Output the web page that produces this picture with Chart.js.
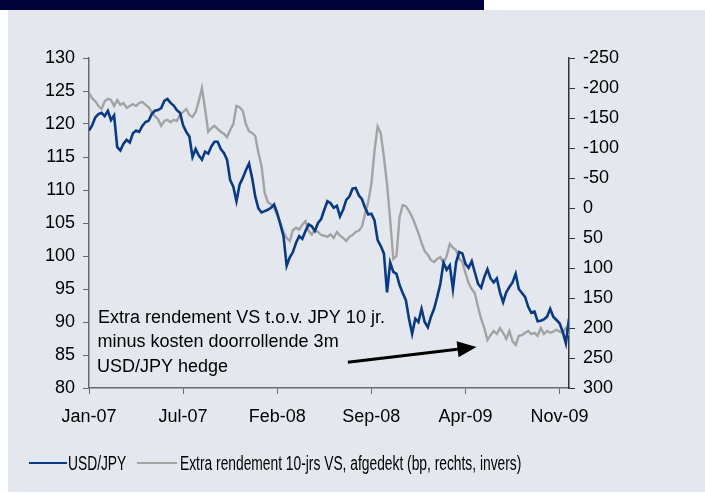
<!DOCTYPE html>
<html>
<head>
<meta charset="utf-8">
<script src="https://cdn.jsdelivr.net/npm/chart.js@4.4.1/dist/chart.umd.min.js"></script>
<style>
html,body{margin:0;padding:0;background:#fff;}
#wrap{width:705px;height:494px;}
</style>
</head>
<body>
<div id="wrap"><canvas id="c" width="705" height="494"></canvas></div>
<script>
// Tick labels (every 30 weeks ~ 150 business days)
const xTickLabels = ['Jan-07','Jul-07','Feb-08','Sep-08','Apr-09','Nov-09'];
const xTickWeeks = [0, 30, 60, 90, 120, 150];

// USD/JPY, weekly samples (left axis)
const usdJpy = [
119.0,119.8,121.0,121.5,121.7,121.2,122.0,120.6,121.3,116.5,
116.0,117.0,117.6,117.2,118.6,119.0,118.8,119.7,120.3,120.5,
121.5,122.0,122.1,122.4,123.5,123.8,123.2,122.8,122.1,121.7,
119.8,118.8,118.1,115.0,116.2,115.2,114.6,115.8,115.5,116.6,
117.3,117.3,116.2,115.6,114.6,111.5,110.5,108.3,110.8,111.8,
113.0,114.0,111.8,109.0,107.2,106.6,106.8,107.0,107.3,107.8,
106.5,104.8,103.0,98.5,99.8,100.6,102.0,103.0,102.6,103.8,
104.8,104.5,103.8,105.0,105.6,107.0,108.3,108.0,107.3,107.6,
106.0,107.0,108.5,109.0,110.2,110.3,109.2,108.6,107.3,106.3,
106.4,105.4,102.4,101.5,100.4,94.5,99.0,97.6,97.3,95.6,
94.4,93.3,90.5,88.2,90.5,90.0,92.0,90.0,89.2,90.8,
92.0,93.8,95.8,99.0,97.9,98.6,95.0,99.0,100.6,100.4,
98.8,98.2,99.2,97.5,95.8,95.2,96.8,98.0,96.6,96.0,
96.6,94.5,93.0,94.5,95.3,96.0,97.3,95.0,94.4,93.8,
92.3,91.4,91.6,90.1,90.2,90.4,90.8,92.0,90.8,90.3,
89.8,88.5,86.8,90.5
];

// Extra rendement 10-jrs VS, afgedekt (bp), weekly samples (right axis, inverted)
const extraRendement = [
-192,-183,-178,-170,-165,-178,-182,-180,-170,-180,
-172,-175,-167,-170,-173,-170,-175,-177,-172,-168,
-160,-153,-148,-137,-145,-147,-143,-147,-145,-155,
-160,-165,-155,-152,-160,-178,-200,-165,-127,-133,
-137,-132,-127,-124,-118,-130,-140,-170,-168,-162,
-140,-128,-125,-120,-92,-70,-25,-10,-6,0,
12,25,40,50,55,37,33,36,28,22,
38,44,36,40,45,46,48,44,50,40,
46,50,55,48,45,40,38,31,10,-10,
-40,-95,-136,-125,-85,-40,20,85,80,15,
-5,-3,5,15,28,42,58,72,78,87,
90,85,82,92,80,60,66,70,84,90,
108,125,135,142,165,185,200,220,212,205,
210,200,208,218,205,222,228,213,212,208,
205,210,208,213,200,210,205,208,206,203,
206,208,200,212
];

const seriesLabels = ['USD/JPY', 'Extra rendement 10-jrs VS, afgedekt (bp, rechts, invers)'];
const annotationLines = ['Extra rendement VS t.o.v. JPY 10 jr.', 'minus kosten doorrollende 3m', 'USD/JPY hedge'];

const BLUE = '#0a3a86';
const GREY = '#a3a3a3';
const FONT = '"Liberation Sans", Arial, sans-serif';

const bgPlugin = {
  id: 'bg',
  beforeDraw(chart) {
    const ctx = chart.ctx;
    ctx.save();
    ctx.fillStyle = '#ffffff';
    ctx.fillRect(0, 0, chart.width, chart.height);
    ctx.fillStyle = '#e4e7ed';
    ctx.fillRect(8, 10, chart.width - 8, chart.height - 12);
    ctx.fillStyle = '#00003a';
    ctx.fillRect(0, 0, 484, 10);
    ctx.restore();
  }
};

const decoPlugin = {
  id: 'deco',
  afterDraw(chart) {
    const ctx = chart.ctx;
    const xs = chart.scales.x, ys = chart.scales.y;
    ctx.save();
    // annotation text
    ctx.fillStyle = '#000';
    ctx.font = '18px ' + FONT;
    ctx.textBaseline = 'middle';
    ctx.textAlign = 'left';
    const ax = xs.getPixelForValue(2.9);
    const ay = [90.6, 87.0, 83.2];
    annotationLines.forEach((t, i) => ctx.fillText(t, ax - (i * 0.6), ys.getPixelForValue(ay[i])));
    // arrow
    const x0 = xs.getPixelForValue(82.5), y0 = ys.getPixelForValue(83.9);
    const x1 = xs.getPixelForValue(123.5), y1 = ys.getPixelForValue(86.2);
    const dx = x1 - x0, dy = y1 - y0, L = Math.hypot(dx, dy);
    const ux = dx / L, uy = dy / L, px = -uy, py = ux;
    const hl = 19, hw = 8;
    const bx = x1 - ux * hl, by = y1 - uy * hl;
    ctx.strokeStyle = '#000';
    ctx.lineWidth = 3;
    ctx.beginPath();
    ctx.moveTo(x0, y0);
    ctx.lineTo(bx + ux * 2, by + uy * 2);
    ctx.stroke();
    ctx.fillStyle = '#000';
    ctx.beginPath();
    ctx.moveTo(x1, y1);
    ctx.lineTo(bx + px * hw, by + py * hw);
    ctx.lineTo(bx - px * hw, by - py * hw);
    ctx.closePath();
    ctx.fill();
    // legend
    const ly = 463;
    const items = [
      {color: BLUE, x0: 29, x1: 67, tx: 68, text: seriesLabels[0]},
      {color: GREY, x0: 137, x1: 177, tx: 180, text: seriesLabels[1]}
    ];
    ctx.font = '20px ' + FONT;
    items.forEach(it => {
      ctx.strokeStyle = it.color;
      ctx.lineWidth = 2;
      ctx.beginPath();
      ctx.moveTo(it.x0, ly);
      ctx.lineTo(it.x1, ly);
      ctx.stroke();
      ctx.save();
      ctx.translate(it.tx, ly);
      ctx.scale(0.69, 1);
      ctx.fillStyle = '#000';
      ctx.textBaseline = 'middle';
      ctx.fillText(it.text, 0, 1);
      ctx.restore();
    });
    ctx.restore();
  }
};

const tickFont = {family: FONT, size: 18};

new Chart(document.getElementById('c'), {
  type: 'line',
  data: {
    datasets: [
      {
        label: seriesLabels[0],
        data: usdJpy.map((v, i) => ({x: i, y: v})),
        borderColor: BLUE,
        borderWidth: 2.6,
        pointRadius: 0,
        tension: 0,
        yAxisID: 'y'
      },
      {
        label: seriesLabels[1],
        data: extraRendement.map((v, i) => ({x: i, y: v})),
        borderColor: GREY,
        borderWidth: 2.4,
        pointRadius: 0,
        tension: 0,
        yAxisID: 'y2'
      }
    ]
  },
  options: {
    responsive: false,
    devicePixelRatio: 1,
    animation: false,
    layout: {padding: {left: 0, right: 0, top: 58, bottom: 0}},
    plugins: {legend: {display: false}, tooltip: {enabled: false}},
    scales: {
      x: {
        type: 'linear',
        min: 0,
        max: 153,
        afterBuildTicks(scale) { scale.ticks = xTickWeeks.map(v => ({value: v})); },
        afterFit(scale) { scale.height = 106; },
        ticks: {
          font: tickFont, color: '#000', padding: 12, maxRotation: 0,
          callback: (v) => xTickLabels[xTickWeeks.indexOf(v)]
        },
        grid: {display: true, drawOnChartArea: false, drawTicks: true, tickLength: 6, color: '#6a6a6a'},
        border: {display: true, color: '#6a6a6a', width: 1.5}
      },
      y: {
        position: 'left',
        min: 80,
        max: 130,
        afterFit(scale) { scale.width = 89; },
        ticks: {stepSize: 5, font: tickFont, color: '#000', padding: 8},
        grid: {display: true, drawOnChartArea: false, drawTicks: true, tickLength: 6, color: '#6a6a6a'},
        border: {display: true, color: '#6a6a6a', width: 1.5}
      },
      y2: {
        position: 'right',
        min: -250,
        max: 300,
        reverse: true,
        afterFit(scale) { scale.width = 136; },
        ticks: {stepSize: 50, font: tickFont, color: '#000', padding: 8},
        grid: {display: true, drawOnChartArea: false, drawTicks: true, tickLength: 6, color: '#333'},
        border: {display: true, color: '#333', width: 1.5}
      }
    }
  },
  plugins: [bgPlugin, decoPlugin]
});
</script>
</body>
</html>
